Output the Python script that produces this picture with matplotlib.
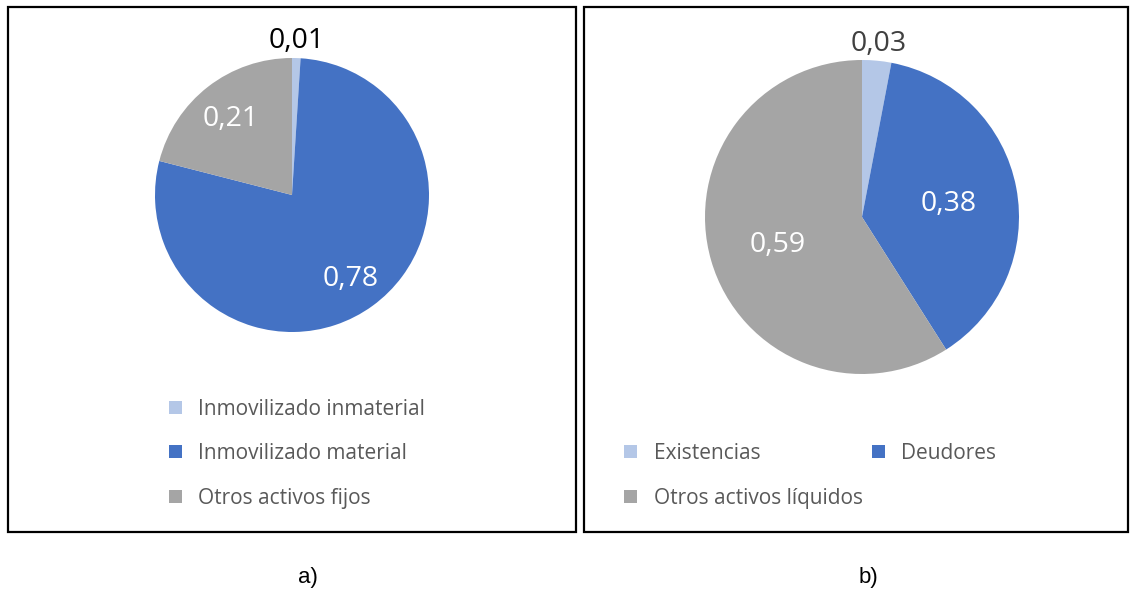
import numpy as np
import matplotlib

matplotlib.use('Agg')
import matplotlib.pyplot as plt
from matplotlib.patches import Rectangle

# Datos de los dos gráficos
etiquetas_a = ["Inmovilizado inmaterial", "Inmovilizado material", "Otros activos fijos"]
valores_a = [0.01, 0.78, 0.21]

etiquetas_b = ["Existencias", "Deudores", "Otros activos líquidos"]
valores_b = [0.03, 0.38, 0.59]

colores = ["#B4C7E7", "#4472C4", "#A5A5A5"]

W, H = 1131, 592
fig = plt.figure(figsize=(W / 100, H / 100), dpi=100)
plt.rcParams['font.family'] = ['Open Sans', 'DejaVu Sans']


def px_axes(cx, cy, r):
    # ejes cuadrados centrados en (cx, cy) en píxeles, origen arriba-izquierda
    return fig.add_axes([(cx - r) / W, (H - cy - r) / H, 2 * r / W, 2 * r / H])


def marco(x0, y0, x1, y1):
    fig.patches.append(Rectangle((x0 / W, 1 - y1 / H), (x1 - x0) / W, (y1 - y0) / H,
                                 transform=fig.transFigure, fill=False,
                                 edgecolor="black", linewidth=1.6))


def dibujar_pie(ax, valores, dist_dentro, dist_fuera, color_fuera):
    wedges, _ = ax.pie(valores, colors=colores, startangle=90, counterclock=False,
                       wedgeprops=dict(linewidth=0))
    ax.set_xlim(-1, 1)
    ax.set_ylim(-1, 1)
    ax.set_aspect("equal")
    for w, v in zip(wedges, valores):
        ang = np.deg2rad((w.theta1 + w.theta2) / 2)
        if v < 0.05:
            d, col = dist_fuera, color_fuera
        else:
            d, col = dist_dentro, "white"
        ax.text(d * np.cos(ang), d * np.sin(ang), f"{v:.2f}".replace(".", ","),
                ha="center", va="center_baseline", fontsize=20.5, color=col)


def leyenda(items, posiciones):
    for (texto, color), (mx, my) in zip(items, posiciones):
        fig.patches.append(Rectangle(((mx - 6.5) / W, 1 - (my + 6.5) / H), 13 / W, 13 / H,
                                     transform=fig.transFigure, facecolor=color,
                                     edgecolor="none"))
        fig.text((mx + 23) / W, 1 - my / H, texto, ha="left", va="center_baseline",
                 fontsize=15, color="#595959")


marco(8, 7, 576, 532)
marco(584, 7, 1128, 532)

ax_a = px_axes(292, 195, 137)
dibujar_pie(ax_a, valores_a, 0.73, 1.15, "black")
leyenda(zip(etiquetas_a, colores), [(175, 407), (175, 451), (175, 496)])

ax_b = px_axes(862, 217, 157)
dibujar_pie(ax_b, valores_b, 0.56, 1.13, "#404040")
leyenda(zip(etiquetas_b, colores), [(631, 451), (878, 451), (631, 496)])

fig.text(308 / W, 1 - 578 / H, "a)", ha="center", va="center", fontsize=16,
         family="Liberation Sans")
fig.text(868 / W, 1 - 578 / H, "b)", ha="center", va="center", fontsize=16,
         family="Liberation Sans")

fig.savefig("out.png", dpi=100)
plt.close(fig)
